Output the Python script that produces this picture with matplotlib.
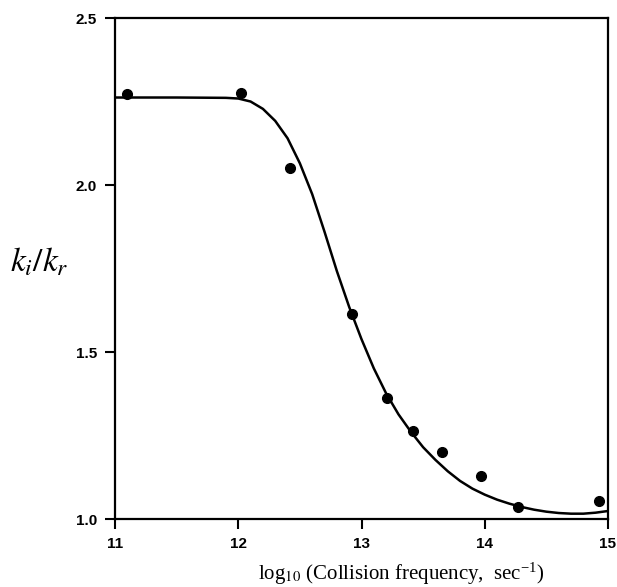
import matplotlib
matplotlib.use('Agg')
import matplotlib.pyplot as plt

plt.rcParams['mathtext.fontset'] = 'stix'

# measured points
x_pts = [11.10, 12.02, 12.42, 12.92, 13.21, 13.42, 13.65, 13.97, 14.27, 14.93]
y_pts = [2.272, 2.275, 2.05, 1.614, 1.362, 1.263, 1.20, 1.13, 1.036, 1.054]

# fitted curve
x_fit = [11.0, 11.5, 11.9, 12.0, 12.1, 12.2, 12.3, 12.4, 12.5, 12.6, 12.7, 12.8,
         12.9, 13.0, 13.1, 13.2, 13.3, 13.4, 13.5, 13.6, 13.7, 13.8, 13.9, 14.0,
         14.1, 14.2, 14.3, 14.4, 14.5, 14.6, 14.7, 14.8, 14.9, 15.0]
y_fit = [2.262, 2.262, 2.261, 2.259, 2.250, 2.228, 2.192, 2.140, 2.065, 1.9725, 1.860, 1.7425,
         1.635, 1.5385, 1.451, 1.376, 1.3135, 1.2615, 1.215, 1.177, 1.143, 1.114, 1.091, 1.073,
         1.058, 1.046, 1.036, 1.028, 1.022, 1.018, 1.016, 1.016, 1.019, 1.024]

xticks = [11, 12, 13, 14, 15]
yticks = [1.0, 1.5, 2.0, 2.5]

fig = plt.figure(figsize=(6.17, 5.87), dpi=100)
ax = fig.add_axes([0.1864, 0.1158, 0.7990, 0.8535])

ax.plot(x_fit, y_fit, color='black', lw=1.8)
ax.plot(x_pts, y_pts, 'o', color='black', ms=7, clip_on=False)

ax.set_xlim(11, 15)
ax.set_ylim(1.0, 2.5)
ax.set_xticks(xticks)
ax.set_yticks(yticks)
ax.set_yticklabels(['%.1f' % v for v in yticks])

for s in ax.spines.values():
    s.set_linewidth(1.6)
ax.tick_params(direction='out', length=7, width=1.5, pad=6)
for lab in ax.get_xticklabels() + ax.get_yticklabels():
    lab.set_fontfamily('Liberation Sans')
    lab.set_fontweight('bold')
    lab.set_fontsize(11)

fig.text(401 / 617, 13 / 587, r'log$_{10}$ (Collision frequency,  sec$^{\mathregular{-1}}$)',
         ha='center', va='center', fontsize=15, family='Liberation Serif')
fig.text(39 / 617, 325 / 587, r'$k_i/k_r$', ha='center', va='center', fontsize=24)

fig.savefig('out.png', dpi=100)
